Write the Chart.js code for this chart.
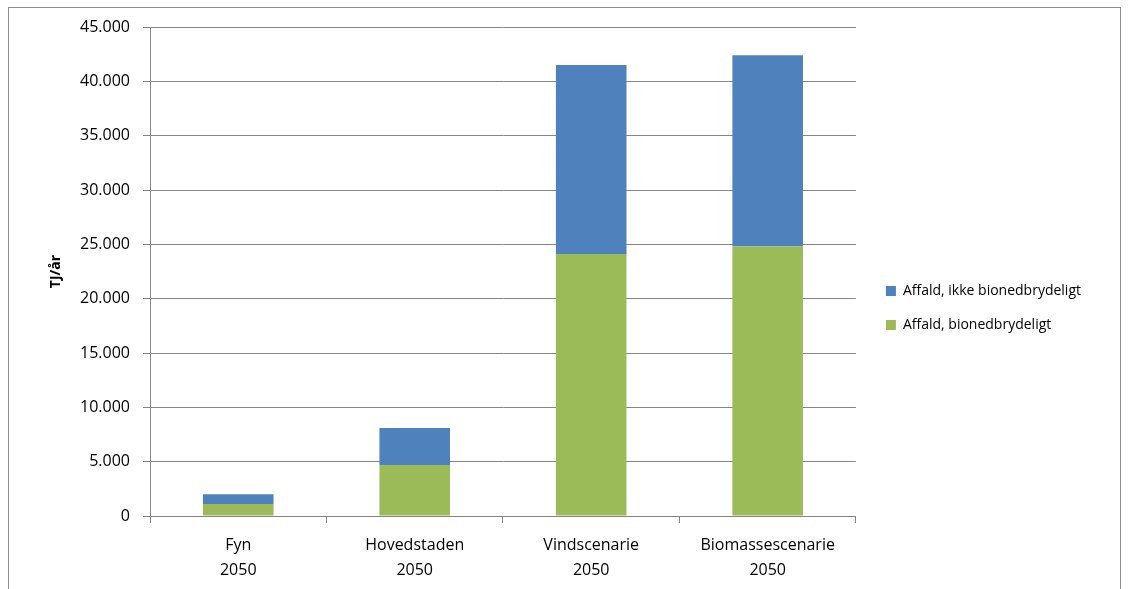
<!DOCTYPE html>
<html>
<head>
<meta charset="utf-8">
<script src="https://cdn.jsdelivr.net/npm/chart.js@4"></script>
<style>
  body { margin: 0; background: #fff; }
  #wrap { position: absolute; left: 0; top: 0; width: 1131px; height: 589px; }
  #frame { position: absolute; left: 8px; top: 7px; width: 1113px; height: 600px; border: 1px solid #8c8c8c; box-sizing: border-box; }
</style>
</head>
<body>
<div id="frame"></div>
<div id="wrap"><canvas id="chart"></canvas></div>
<script>
const categories = [['Fyn', '2050'], ['Hovedstaden', '2050'], ['Vindscenarie', '2050'], ['Biomassescenarie', '2050']]
const bionedbrydeligt = [1100, 4700, 24100, 24800]
const ikkeBionedbrydeligt = [900, 3400, 17400, 17600]
const yTicks = [0, 5000, 10000, 15000, 20000, 25000, 30000, 35000, 40000, 45000]

const fontName = "'Open Sans', sans-serif"
const gridGrey = '#868686'

function danish(v) {
    return String(v).replace(/\B(?=(\d{3})+(?!\d))/g, '.')
}

// push the legend a bit further away from the plot, like the original
const legendShift = {
    id: 'legendShift',
    afterLayout(chart) {
        chart.legend.left += 10
        chart.legend.right += 10
    }
}

const ctx = document.getElementById('chart').getContext('2d')

const chart = new Chart(ctx, {
    type: 'bar',
    data: {
        labels: categories,
        datasets: [
            {
                label: 'Affald, bionedbrydeligt',
                data: bionedbrydeligt,
                backgroundColor: '#9BBB59',
                categoryPercentage: 1,
                barPercentage: 0.4
            },
            {
                label: 'Affald, ikke bionedbrydeligt',
                data: ikkeBionedbrydeligt,
                backgroundColor: '#4F81BD',
                categoryPercentage: 1,
                barPercentage: 0.4
            }
        ]
    },
    options: {
        responsive: true,
        maintainAspectRatio: false,
        animation: false,
        layout: {
            padding: { top: 27, right: 50, bottom: 0, left: 0 }
        },
        plugins: {
            tooltip: { enabled: false },
            legend: {
                position: 'right',
                reverse: true,
                labels: {
                    boxWidth: 10,
                    boxHeight: 10,
                    padding: 20,
                    color: '#000',
                    font: { family: fontName, size: 14 }
                }
            }
        },
        scales: {
            x: {
                stacked: true,
                grid: {
                    offset: true,
                    drawOnChartArea: false,
                    drawTicks: true,
                    tickLength: 7,
                    color: gridGrey
                },
                border: { color: gridGrey, width: 1 },
                ticks: {
                    color: '#000',
                    padding: 10,
                    font: { family: fontName, size: 16, lineHeight: 1.55 },
                    maxRotation: 0
                },
                afterFit: (scale) => { scale.height = 73 }
            },
            y: {
                stacked: true,
                min: 0,
                max: 45000,
                afterBuildTicks: (scale) => { scale.ticks = yTicks.map(v => ({ value: v })) },
                grid: {
                    color: gridGrey,
                    lineWidth: 1,
                    tickLength: 7
                },
                border: { color: gridGrey, width: 1 },
                ticks: {
                    color: '#000',
                    padding: 13,
                    font: { family: fontName, size: 16 },
                    callback: (v) => danish(v)
                },
                title: {
                    display: true,
                    text: 'TJ/år',
                    color: '#000',
                    font: { family: fontName, size: 14, weight: 'bold' },
                    padding: { top: 48, bottom: 0 }
                },
                afterFit: (scale) => { scale.width = 150 }
            }
        }
    },
    plugins: [legendShift]
})
</script>
</body>
</html>
